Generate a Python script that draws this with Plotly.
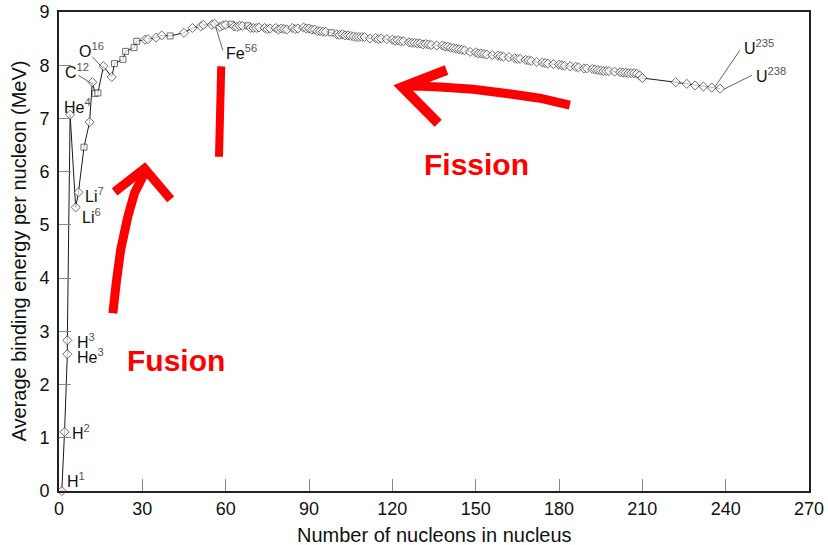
import plotly.graph_objects as go

# ---- data ----
mass_number = [1, 2, 3, 3, 4, 6, 7, 9, 11, 12, 13, 14, 16, 19, 20, 23, 24, 27, 28, 31,
               32, 35, 37, 40, 45, 48, 51, 52, 55, 56, 58, 59, 60, 62, 63, 64, 65, 66, 68, 69,
               70, 71, 72, 74, 75, 76, 78, 79, 80, 81, 82, 84, 85, 86, 88, 89, 90, 91, 92, 93,
               94, 95, 96, 98, 100, 101, 102, 103, 104, 105, 106, 107, 108, 109, 110, 112, 114, 115, 116, 118,
               120, 121, 122, 123, 124, 126, 127, 128, 129, 130, 131, 132, 133, 134, 136, 138, 139, 140, 141, 142,
               143, 144, 145, 146, 148, 150, 151, 152, 153, 154, 156, 158, 159, 160, 162, 164, 165, 166, 168, 169,
               170, 172, 174, 175, 176, 178, 180, 181, 182, 184, 186, 187, 189, 190, 192, 193, 194, 195, 196, 197,
               198, 200, 202, 203, 204, 205, 206, 207, 208, 209, 210, 222, 226, 229, 232, 235, 238]
binding_energy = [0.00, 1.11, 2.57, 2.83, 7.07, 5.33, 5.61, 6.46, 6.93, 7.68, 7.47, 7.48, 7.98, 7.78, 8.03, 8.11, 8.26, 8.33, 8.45, 8.48,
                  8.49, 8.52, 8.56, 8.55, 8.61, 8.70, 8.73, 8.76, 8.76, 8.78, 8.72, 8.75, 8.76, 8.77, 8.73, 8.72, 8.74, 8.74, 8.74, 8.70,
                  8.70, 8.70, 8.71, 8.70, 8.68, 8.69, 8.70, 8.67, 8.69, 8.68, 8.67, 8.70, 8.68, 8.69, 8.71, 8.69, 8.69, 8.67, 8.67, 8.64,
                  8.64, 8.63, 8.63, 8.61, 8.58, 8.57, 8.58, 8.56, 8.56, 8.55, 8.54, 8.53, 8.53, 8.53, 8.53, 8.50, 8.51, 8.49, 8.50, 8.49,
                  8.48, 8.46, 8.47, 8.45, 8.45, 8.43, 8.42, 8.42, 8.41, 8.41, 8.39, 8.40, 8.39, 8.38, 8.37, 8.37, 8.35, 8.35, 8.33, 8.32,
                  8.31, 8.30, 8.29, 8.28, 8.25, 8.24, 8.22, 8.22, 8.21, 8.20, 8.19, 8.18, 8.17, 8.16, 8.15, 8.13, 8.12, 8.12, 8.10, 8.09,
                  8.08, 8.06, 8.05, 8.04, 8.03, 8.02, 8.01, 8.00, 7.99, 7.98, 7.97, 7.96, 7.94, 7.94, 7.93, 7.92, 7.91, 7.90, 7.89, 7.89,
                  7.89, 7.88, 7.87, 7.86, 7.86, 7.85, 7.85, 7.85, 7.84, 7.81, 7.76, 7.68, 7.65, 7.62, 7.60, 7.58, 7.56]
square_at = [9, 13, 14, 20, 23, 24, 27, 28, 40, 62, 68, 98]
marker_shape = ["square" if (a in square_at) else "diamond" for a in mass_number]

# labelled nuclides: base text, superscript, label position (left, middle), leader line
labels = ["H", "H", "H", "He", "He", "Li", "Li", "C", "O", "Fe", "U", "U"]
label_sup = ["1", "2", "3", "3", "4", "7", "6", "12", "16", "56", "235", "238"]
label_x = [2.3, 3.8, 5.9, 5.9, 0.9, 8.5, 7.7, 1.3, 6.3, 59.3, 245.9, 250.2]
label_y = [0.20, 1.10, 2.82, 2.54, 7.23, 5.56, 5.17, 7.89, 8.28, 8.25, 8.34, 7.81]

leader_x0 = [7.0, 12.0, 56.4, 245.1, 249.4]
leader_y0 = [7.81, 8.16, 8.72, 8.28, 7.81]
leader_x1 = [11.6, 15.7, 59.0, 236.1, 239.0]
leader_y1 = [7.66, 7.95, 8.28, 7.59, 7.54]

x_ticks = [0, 30, 60, 90, 120, 150, 180, 210, 240, 270]
y_ticks = [0, 1, 2, 3, 4, 5, 6, 7, 8, 9]

FONT = "Liberation Sans, Arial, sans-serif"
RED = "#ff0000"

fig = go.Figure()
fig.add_trace(go.Scatter(
    x=mass_number, y=binding_energy, mode="lines+markers",
    line=dict(color="#1a1a1a", width=1),
    marker=dict(symbol=marker_shape,
                size=[6 if s == "square" else 7 for s in marker_shape],
                color="white", line=dict(color="#333333", width=1)),
    showlegend=False, hoverinfo="skip", cliponaxis=False))

annotations = []
for t, s, x, y in zip(labels, label_sup, label_x, label_y):
    annotations.append(dict(
        x=x, y=y, xref="x", yref="y", xanchor="left", yanchor="middle",
        text=f"{t}<sup><span style='color:#555555'>{s}</span></sup>",
        showarrow=False, font=dict(family=FONT, size=16, color="#111111")))

shapes = []
for x0, y0, x1, y1 in zip(leader_x0, leader_y0, leader_x1, leader_y1):
    shapes.append(dict(type="line", xref="x", yref="y", x0=x0, y0=y0, x1=x1, y1=y1,
                       line=dict(color="#666666", width=1)))

# hand-drawn red arrows
shapes.append(dict(type="path", xref="x", yref="y",
                   path="M 19.4,3.34 L 20.6,3.91 L 22.2,4.53 L 24.8,5.16 L 27.2,5.60 L 30.2,5.91 L 30.8,6.06",
                   line=dict(color=RED, width=9)))
shapes.append(dict(type="path", xref="x", yref="y",
                   path="M 20.0,5.62 L 30.8,6.06 L 40.2,5.48",
                   line=dict(color=RED, width=9)))
shapes.append(dict(type="path", xref="x", yref="y",
                   path="M 183.9,7.25 L 173.1,7.38 L 161.1,7.47 L 149.1,7.55 L 137.1,7.59 L 128.7,7.61 L 123.6,7.59",
                   line=dict(color=RED, width=9)))
shapes.append(dict(type="path", xref="x", yref="y",
                   path="M 139.5,7.91 L 123.6,7.59 L 136.5,6.91",
                   line=dict(color=RED, width=10)))
shapes.append(dict(type="line", xref="x", yref="y", x0=58.4, y0=7.98, x1=57.6, y1=6.28,
                   line=dict(color=RED, width=8)))

annotations.append(dict(x=150.3, y=6.13, xref="x", yref="y", text="<b>Fission</b>",
                        showarrow=False, font=dict(family=FONT, size=30, color=RED)))
annotations.append(dict(x=42.2, y=2.45, xref="x", yref="y", text="<b>Fusion</b>",
                        showarrow=False, font=dict(family=FONT, size=30, color=RED)))

# axis titles
annotations.append(dict(x=0.5, y=0, xref="paper", yref="paper", yshift=-44, yanchor="middle",
                        text="Number of nucleons in nucleus", showarrow=False,
                        font=dict(family=FONT, size=20, color="#111111")))
annotations.append(dict(x=0, y=0.5, xref="paper", yref="paper", xshift=-41, xanchor="center",
                        textangle=-90, text="Average binding energy per nucleon (MeV)", showarrow=False,
                        font=dict(family=FONT, size=20, color="#111111")))

axis_common = dict(showgrid=False, zeroline=False, showline=True, mirror=True,
                   linecolor="#222222", linewidth=2, ticks="inside", ticklen=12,
                   tickcolor="#888888", tickwidth=1, automargin=False,
                   tickfont=dict(family=FONT, size=18, color="#111111"))

fig.update_layout(
    width=828, height=545,
    margin=dict(l=59, r=19, t=12, b=54, autoexpand=False),
    paper_bgcolor="white", plot_bgcolor="white",
    xaxis=dict(range=[0, 270], tickvals=x_ticks, **axis_common),
    yaxis=dict(range=[0, 9], tickvals=y_ticks, ticklabelstandoff=4, **axis_common),
    annotations=annotations, shapes=shapes,
)

# remove the browser's default 8px page margin so the figure fills the window exactly
fig.write_html("out.html", config={"displayModeBar": False},
               post_script="document.body.style.margin='0';document.body.style.overflow='hidden';")
